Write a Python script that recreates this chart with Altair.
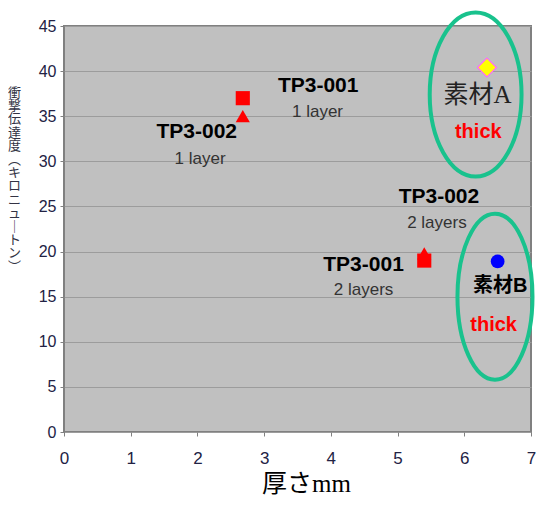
import altair as alt
import pandas as pd

# ---- data ----
series = ["TP3-002 1 layer", "TP3-002 2 layers", "TP3-001 1 layer", "TP3-001 2 layers", "素材A", "素材B"]
thickness = [2.68, 5.40, 2.68, 5.40, 6.34, 6.50]
impact = [35.0, 19.8, 37.0, 19.0, 40.4, 18.9]

bold_text = ["TP3-001", "TP3-002", "TP3-002", "TP3-001"]
bold_x = [3.81, 1.99, 5.62, 4.49]
bold_y = [38.3, 33.3, 26.1, 18.5]

layer_text = ["1 layer", "1 layer", "2 layers", "2 layers"]
layer_x = [3.80, 2.04, 5.59, 4.49]
layer_y = [35.5, 30.3, 23.2, 15.7]

matA_text = ["素材A"]
matA_x = [6.20]
matA_y = [37.4]

matB_text = ["素材B"]
matB_x = [6.54]
matB_y = [16.2]

thick_text = ["thick", "thick"]
thick_x = [6.21, 6.44]
thick_y = [33.3, 11.9]

ring_names = ["A", "B"]
ring_x = [6.17, 6.46]
ring_y = [37.4, 15.0]

x_ticks = [0, 1, 2, 3, 4, 5, 6, 7]
y_ticks = [0, 5, 10, 15, 20, 25, 30, 35, 40, 45]

y_title = ["衝", "撃", "伝", "達", "度", "︵", "キ", "ロ", "ニ", "ュ", "｜", "ト", "ン", "︶"]

pts = pd.DataFrame({"series": series, "x": thickness, "y": impact})

X = alt.X("x:Q", scale=alt.Scale(domain=[0, 7], nice=False),
          axis=alt.Axis(values=x_ticks, format="d", grid=False, title="厚さmm", tickSize=4,
                        labelPadding=14, labelFontSize=17, labelColor="#222244", labelFlush=False,
                        labelFont="Liberation Sans", titleFont="Liberation Serif, Noto Sans CJK JP",
                        titleFontSize=25, titleFontWeight="normal", titleColor="#000000",
                        titleX=242, titleY=59, titleBaseline="alphabetic",
                        domain=False, tickColor="#808080"))
Y = alt.Y("y:Q", scale=alt.Scale(domain=[0, 45], nice=False),
          axis=alt.Axis(values=y_ticks, format="d", grid=True, gridColor="#9c9c9c", gridWidth=1,
                        title=y_title, titleAngle=0, titleX=-50, titleY=60,
                        titleBaseline="top", titleAlign="center", titleLineHeight=13.4,
                        titleFontSize=13, titleFontWeight="normal", titleColor="#333344",
                        titleFont="Noto Sans CJK JP", tickSize=4, labelPadding=4, labelFlush=False,
                        labelFontSize=16, labelColor="#222244", labelFont="Liberation Sans",
                        domain=False, tickColor="#808080"))

base = alt.Chart(pts)

def pick(name):
    return alt.datum.series == name

tri = base.transform_filter(alt.FieldOneOfPredicate(field="series", oneOf=series[0:2])).mark_point(
    shape="triangle-up", filled=True, color="#FF0000", size=200, opacity=1).encode(x=X, y=Y)
sq = base.transform_filter(alt.FieldOneOfPredicate(field="series", oneOf=series[2:4])).mark_point(
    shape="square", filled=True, color="#FF0000", size=200, opacity=1).encode(x=X, y=Y)
dia = base.transform_filter(pick(series[4])).mark_point(
    shape="diamond", filled=True, fill="#FFFF00", stroke="#FF66FF", strokeWidth=1.2,
    size=360, opacity=1).encode(x=X, y=Y)
cir = base.transform_filter(pick(series[5])).mark_point(
    shape="circle", filled=True, color="#0000FF", size=190, opacity=1).encode(x=X, y=Y)

def text_layer(texts, xs, ys, **kw):
    df = pd.DataFrame({"t": texts, "x": xs, "y": ys})
    return alt.Chart(df).mark_text(align="center", baseline="middle", **kw).encode(
        x="x:Q", y="y:Q", text="t:N")

t_bold = text_layer(bold_text, bold_x, bold_y, font="Liberation Sans", fontSize=21,
                    fontWeight="bold", color="#000000")
t_layer = text_layer(layer_text, layer_x, layer_y, font="Liberation Sans", fontSize=17,
                     color="#333333")
t_A = text_layer(matA_text, matA_x, matA_y, font="Liberation Serif, Noto Sans CJK JP",
                 fontSize=25, color="#222222")
t_B = text_layer(matB_text, matB_x, matB_y, font="Liberation Sans, Noto Sans CJK JP",
                 fontSize=20, fontWeight="bold", color="#000000")
t_thick = text_layer(thick_text, thick_x, thick_y, font="Liberation Sans", fontSize=20,
                     fontWeight="bold", color="#FF0000")

rings = pd.DataFrame({"r": ring_names, "x": ring_x, "y": ring_y})
def ellipse_path(ratio):
    return f"M {-ratio} 0 A {ratio} 1 0 1 1 {ratio} 0 A {ratio} 1 0 1 1 {-ratio} 0 Z"

ringA = alt.Chart(rings).transform_filter(alt.datum.r == "A").mark_point(
    shape=ellipse_path(0.56), filled=False, stroke="#19C28D", strokeWidth=4,
    size=26896, opacity=1).encode(x="x:Q", y="y:Q")
ringB = alt.Chart(rings).transform_filter(alt.datum.r == "B").mark_point(
    shape=ellipse_path(0.452), filled=False, stroke="#19C28D", strokeWidth=4,
    size=27556, opacity=1).encode(x="x:Q", y="y:Q")

chart = alt.layer(tri, sq, dia, cir, t_bold, t_layer, t_A, t_B, t_thick, ringA, ringB).properties(
    width=467, height=406,
    autosize=alt.AutoSizeParams(type="none"),
    padding={"left": 56, "top": 18, "right": 5, "bottom": 63},
).configure_view(fill="#C0C0C0", stroke="#808080", strokeWidth=2)

chart.save("out.html", embed_options={"renderer": "svg", "actions": False})
